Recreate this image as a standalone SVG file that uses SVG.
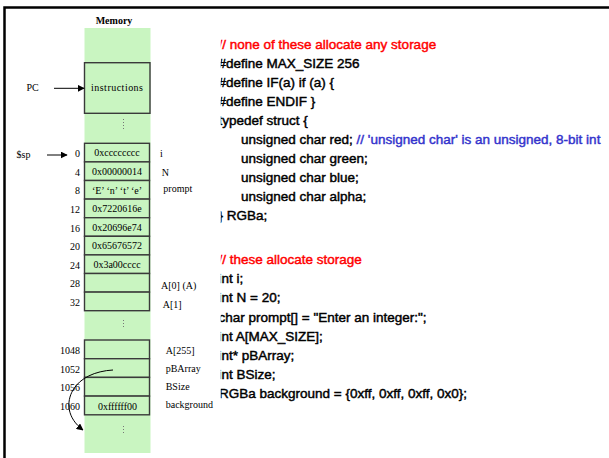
<svg xmlns="http://www.w3.org/2000/svg" width="609" height="458" viewBox="0 0 609 458">
<style>
.mem{font-family:"Liberation Serif","Times New Roman",serif;font-size:10px;fill:#000}
.addr{text-anchor:end}
.val{text-anchor:middle}
.cell{fill:#c9f5c1;stroke:#3a3a3a;stroke-width:1.4}
.code{font-family:"Liberation Sans",Arial,sans-serif;font-size:13.5px;fill:#000;stroke:#000;stroke-width:0.45}
.red{fill:#ff0000;stroke:#ff0000}
.blue{fill:#3333cc;stroke:#3333cc}
.dots{stroke:#777;stroke-width:1;stroke-dasharray:1 2}
.arr{stroke:#000;stroke-width:1;fill:none}
</style>
<defs>
<marker id="ah" viewBox="0 0 10 10" refX="9" refY="5" markerWidth="7" markerHeight="7" markerUnits="userSpaceOnUse" orient="auto">
<path d="M0,0 L10,5 L0,10 z" fill="#000"/>
</marker>
<clipPath id="codeclip"><rect x="220.8" y="0" width="400" height="458"/></clipPath>
</defs>
<rect width="609" height="458" fill="#fff"/>
<path d="M4.5,458 V7.5 H609" fill="none" stroke="#000" stroke-width="2.5"/>

<g id="memory">
<rect x="84.5" y="28" width="66" height="425" fill="#c9f5c1"/>
<text class="mem" x="114" y="24" text-anchor="middle" font-weight="bold" font-size="12">Memory</text>
</g>
<g id="instructions">
<rect class="cell" x="84.5" y="62.7" width="65.5" height="50.6"/>
<text class="mem" x="117" y="91" text-anchor="middle" font-size="8.5" textLength="52" lengthAdjust="spacing">instructions</text>
</g>
<g id="pc"><text class="mem" x="26.5" y="91">PC</text></g>
<g id="sp"><text class="mem" x="16.5" y="158">$sp</text></g>

<line class="dots" x1="123.5" y1="119" x2="123.5" y2="129"/>
<line class="dots" x1="123.5" y1="320" x2="123.5" y2="329"/>
<line class="dots" x1="123.5" y1="426" x2="123.5" y2="435"/>

<g id="cell0"><rect class="cell" x="84.5" y="143.3" width="65" height="18.6"/><text class="mem addr" x="80" y="157.3">0</text><text class="mem val" x="117" y="156.3">0xcccccccc</text><text class="mem" x="160" y="156.7">i</text></g>
<g id="cell4"><rect class="cell" x="84.5" y="161.9" width="65" height="18.6"/><text class="mem addr" x="80" y="175.5">4</text><text class="mem val" x="117" y="174.9">0x00000014</text><text class="mem" x="161.7" y="176">N</text></g>
<g id="cell8"><rect class="cell" x="84.5" y="180.5" width="65" height="18.6"/><text class="mem addr" x="80" y="194.3">8</text><text class="mem val" x="117" y="193.5">‘E’ ‘n’ ‘t’ ‘e’</text><text class="mem" x="163.3" y="191.7">prompt</text></g>
<g id="cell12"><rect class="cell" x="84.5" y="199.1" width="65" height="18.6"/><text class="mem addr" x="80" y="212.9">12</text><text class="mem val" x="117" y="212.1">0x7220616e</text></g>
<g id="cell16"><rect class="cell" x="84.5" y="217.7" width="65" height="18.6"/><text class="mem addr" x="80" y="231.5">16</text><text class="mem val" x="117" y="230.7">0x20696e74</text></g>
<g id="cell20"><rect class="cell" x="84.5" y="236.3" width="65" height="18.6"/><text class="mem addr" x="80" y="250.1">20</text><text class="mem val" x="117" y="249.3">0x65676572</text></g>
<g id="cell24"><rect class="cell" x="84.5" y="254.9" width="65" height="18.6"/><text class="mem addr" x="80" y="268.7">24</text><text class="mem val" x="117" y="267.9">0x3a00cccc</text></g>
<g id="cell28"><rect class="cell" x="84.5" y="273.5" width="65" height="18.6"/><text class="mem addr" x="80" y="287.3">28</text><text class="mem" x="161" y="289.3">A[0] (A)</text></g>
<g id="cell32"><rect class="cell" x="84.5" y="292.1" width="65" height="18.6"/><text class="mem addr" x="80" y="305.9">32</text><text class="mem" x="162.7" y="308.3">A[1]</text></g>

<g id="cell1048"><rect class="cell" x="84.5" y="340" width="65" height="18.7"/><text class="mem addr" x="80" y="353.8">1048</text><text class="mem" x="165.7" y="354">A[255]</text></g>
<g id="cell1052"><rect class="cell" x="84.5" y="358.7" width="65" height="18.7"/><text class="mem addr" x="80" y="372.5">1052</text><text class="mem" x="165.7" y="371.7">pBArray</text></g>
<g id="cell1056"><rect class="cell" x="84.5" y="377.4" width="65" height="18.7"/><text class="mem addr" x="80" y="391.2">1056</text><text class="mem" x="165.7" y="390">BSize</text></g>
<g id="cell1060"><rect class="cell" x="84.5" y="396.1" width="65" height="18.7"/><text class="mem addr" x="80" y="409.9">1060</text><text class="mem val" x="117.5" y="409.5">0xffffff00</text><text class="mem" x="165.7" y="408.3">background</text></g>

<g id="connectors">
<line class="arr" x1="54" y1="88.3" x2="84" y2="88.3" marker-end="url(#ah)"/>
<line class="arr" x1="47" y1="155" x2="67" y2="155" marker-end="url(#ah)"/>
<path class="arr" d="M113,370 C95,371 80,378 73,390 C66,402 67,418 83,430" stroke="#444" marker-end="url(#ah)"/>
</g>

<g id="code" clip-path="url(#codeclip)">
<text class="code red" x="218.5" y="48.5">// none of these allocate any storage</text>
<text class="code" x="218.5" y="67.5">#define MAX_SIZE 256</text>
<text class="code" x="218.5" y="86.6">#define IF(a) if (a) {</text>
<text class="code" x="218.5" y="105.6">#define ENDIF }</text>
<text class="code" x="218.5" y="124.7">typedef struct {</text>
<text class="code" x="241" y="143.7">unsigned char red; <tspan class="blue">// 'unsigned char' is an unsigned, 8-bit int</tspan></text>
<text class="code" x="241" y="162.8">unsigned char green;</text>
<text class="code" x="241" y="181.8">unsigned char blue;</text>
<text class="code" x="241" y="200.9">unsigned char alpha;</text>
<text class="code" x="218.5" y="219.9">} RGBa;</text>
<text class="code red" x="218.5" y="264">// these allocate storage</text>
<text class="code" x="218.5" y="283.2">int i;</text>
<text class="code" x="218.5" y="302.4">int N = 20;</text>
<text class="code" x="218.5" y="321.6">char prompt[] = "Enter an integer:";</text>
<text class="code" x="218.5" y="340.8">int A[MAX_SIZE];</text>
<text class="code" x="218.5" y="360">int* pBArray;</text>
<text class="code" x="218.5" y="379.2">int BSize;</text>
<text class="code" x="219" y="398.4">RGBa background = {0xff, 0xff, 0xff, 0x0};</text>
</g>
</svg>
